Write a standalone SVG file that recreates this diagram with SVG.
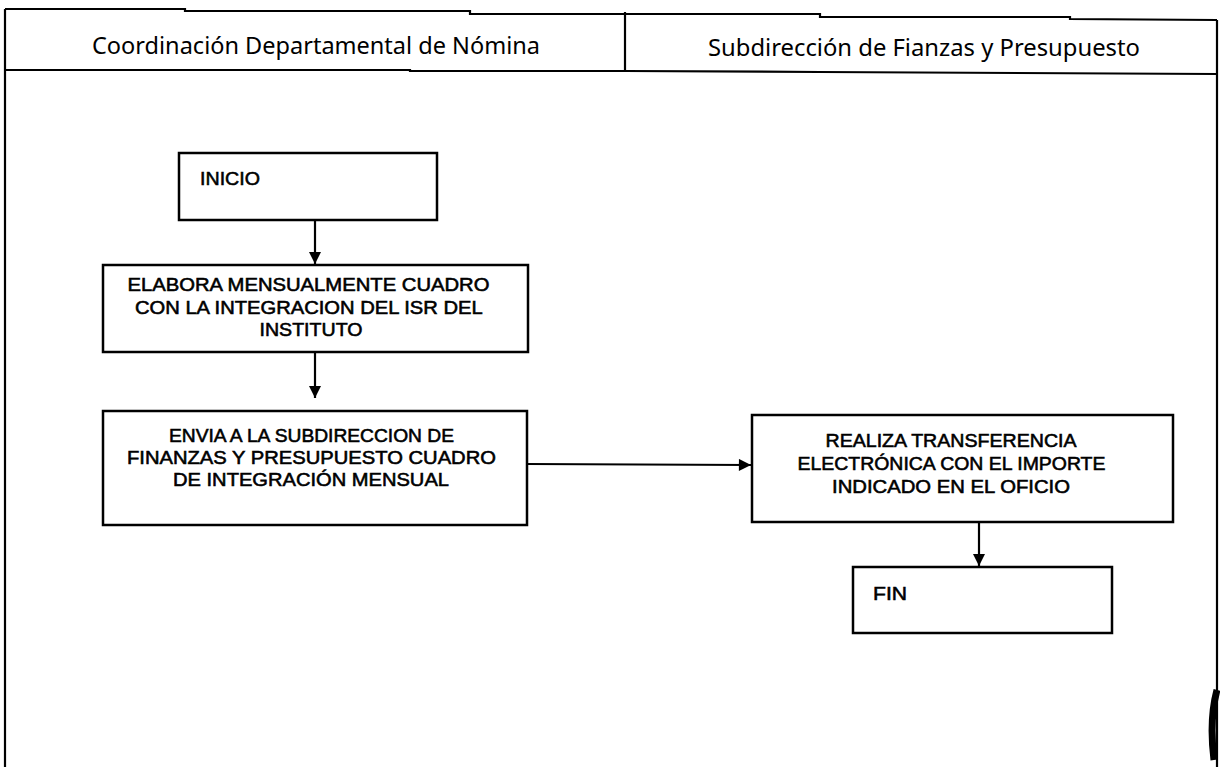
<svg xmlns="http://www.w3.org/2000/svg" width="1220" height="767" viewBox="0 0 1220 767">
<defs>
<marker id="ah" viewBox="0 0 10 10" refX="10" refY="5" markerWidth="6" markerHeight="5.5" markerUnits="strokeWidth" orient="auto">
<path d="M0,0 L10,5 L0,10 z" fill="#000"/>
</marker>
<style>
.frame{fill:none;stroke:#000;stroke-width:2.2}
.box{fill:#fff;stroke:#000;stroke-width:2.5}
.hdr{font-family:"Noto Sans","Open Sans","Liberation Sans",sans-serif;font-size:24px;fill:#000}
.t{font-family:"Liberation Sans",Arial,sans-serif;font-size:18px;fill:#000;stroke:#000;stroke-width:0.55}
.conn{fill:none;stroke:#000;stroke-width:2.2}
</style>
</defs>
<rect width="1220" height="767" fill="#fff"/>
<g id="frame">
<path class="frame" d="M5,9 L185,9 L185,11 L470,11 L470,14 L820,14 L820,17 L1070,17 L1070,19 L1217,20"/>
<path class="frame" d="M5,9 L5,767"/>
<path class="frame" d="M1217,20 L1217,767"/>
<path class="frame" d="M5,70 L410,70 L410,71 L625,71 L820,72 L1217,74"/>
<path class="frame" d="M625,12 L625,72"/>
<path d="M1217,690 Q1209,720 1214,760" fill="none" stroke="#000" stroke-width="7"/>
</g>
<g id="lane1">
<text class="hdr" x="92" y="54" textLength="448" lengthAdjust="spacingAndGlyphs">Coordinación Departamental de Nómina</text>
</g>
<g id="lane2">
<text class="hdr" x="708" y="56" textLength="432" lengthAdjust="spacingAndGlyphs">Subdirección de Fianzas y Presupuesto</text>
</g>
<g id="inicio">
<rect class="box" x="179" y="153" width="258" height="67"/>
<text class="t" x="200" y="185" style="font-size:19px" textLength="60" lengthAdjust="spacingAndGlyphs">INICIO</text>
</g>
<g id="elabora">
<rect class="box" x="103" y="265" width="425" height="87"/>
<text class="t" text-anchor="middle">
<tspan x="311" y="291" textLength="362" lengthAdjust="spacingAndGlyphs">ELABORA MENSUALMENTE CUADRO</tspan>
<tspan x="311" y="314" textLength="347" lengthAdjust="spacingAndGlyphs">CON LA INTEGRACION DEL ISR DEL</tspan>
<tspan x="311" y="336" textLength="103" lengthAdjust="spacingAndGlyphs">INSTITUTO</tspan>
</text>
</g>
<g id="envia">
<rect class="box" x="103" y="411" width="424" height="114"/>
<text class="t" text-anchor="middle">
<tspan x="314" y="442" textLength="285" lengthAdjust="spacingAndGlyphs">ENVIA A LA SUBDIRECCION DE</tspan>
<tspan x="314" y="464" textLength="369" lengthAdjust="spacingAndGlyphs">FINANZAS Y PRESUPUESTO CUADRO</tspan>
<tspan x="311" y="486" textLength="276" lengthAdjust="spacingAndGlyphs">DE INTEGRACIÓN MENSUAL</tspan>
</text>
</g>
<g id="realiza">
<rect class="box" x="752" y="415" width="421" height="107"/>
<text class="t" text-anchor="middle">
<tspan x="953" y="447" textLength="250" lengthAdjust="spacingAndGlyphs">REALIZA TRANSFERENCIA</tspan>
<tspan x="954" y="470" textLength="308" lengthAdjust="spacingAndGlyphs">ELECTRÓNICA CON EL IMPORTE</tspan>
<tspan x="951" y="493" textLength="238" lengthAdjust="spacingAndGlyphs">INDICADO EN EL OFICIO</tspan>
</text>
</g>
<g id="fin">
<rect class="box" x="853" y="567" width="259" height="66"/>
<text class="t" x="873" y="600" textLength="34" lengthAdjust="spacingAndGlyphs">FIN</text>
</g>
<g id="connectors">
<path class="conn" d="M315,220 L315,264" marker-end="url(#ah)"/>
<path class="conn" d="M315,352 L315,398" marker-end="url(#ah)"/>
<path class="conn" d="M527,464 L751,465" marker-end="url(#ah)"/>
<path class="conn" d="M979,522 L979,566" marker-end="url(#ah)"/>
</g>
</svg>
